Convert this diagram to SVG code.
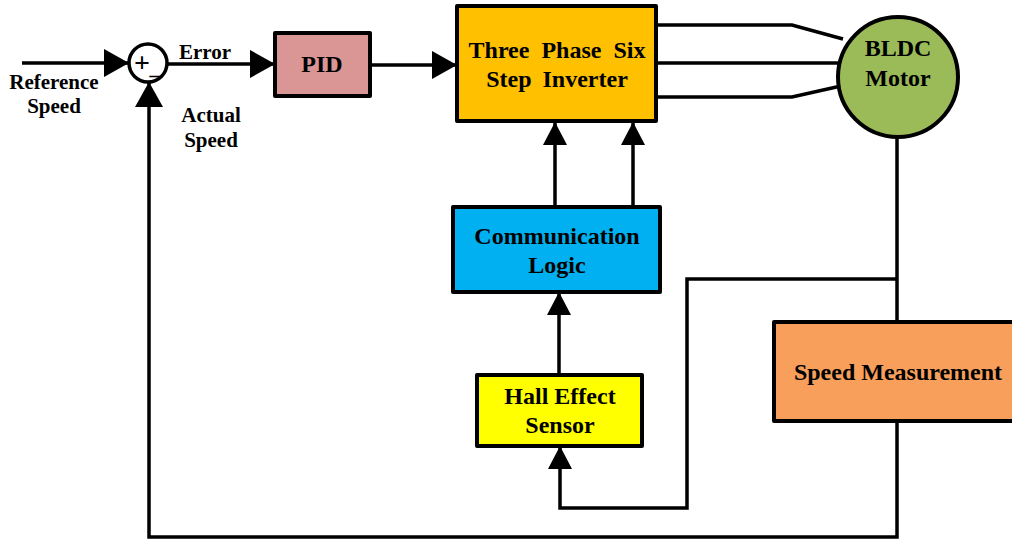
<svg xmlns="http://www.w3.org/2000/svg" width="1012" height="539" viewBox="0 0 1012 539">
<style>
.box{stroke:#000;stroke-width:4;stroke-linejoin:round}
.ln{fill:none;stroke:#000;stroke-width:3.5;stroke-linejoin:miter}
.t{font-family:"Liberation Serif","Times New Roman",serif;font-weight:bold;fill:#000;text-anchor:middle}
.s21{font-size:21px}
.s24{font-size:24px}
</style>
<defs>
<marker id="ah" markerUnits="userSpaceOnUse" markerWidth="26" markerHeight="28" refX="25" refY="14" orient="auto">
<path d="M0,0 L25,14 L0,28 z" fill="#000"/>
</marker>
<marker id="ahs" markerUnits="userSpaceOnUse" markerWidth="24" markerHeight="24" refX="23" refY="12" orient="auto">
<path d="M0,0 L23,12 L0,24 z" fill="#000"/>
</marker>
</defs>
<rect width="1012" height="539" fill="#fff"/>
<g id="connectors">
<line class="ln" x1="22" y1="63" x2="129" y2="63" marker-end="url(#ah)"/>
<line class="ln" x1="168" y1="64" x2="275" y2="64" marker-end="url(#ah)"/>
<line class="ln" x1="370" y1="65" x2="457" y2="65" marker-end="url(#ah)"/>
<polyline class="ln" points="656,25 792,25 843,39"/>
<line class="ln" x1="656" y1="63" x2="839" y2="63"/>
<polyline class="ln" points="656,97 792,97 841,86"/>
<line class="ln" x1="555" y1="207" x2="555" y2="122" marker-end="url(#ahs)"/>
<line class="ln" x1="633" y1="207" x2="633" y2="122" marker-end="url(#ahs)"/>
<line class="ln" x1="559" y1="375" x2="559" y2="292" marker-end="url(#ahs)"/>
<polyline class="ln" points="897,279 687,279 687,508 560,508 560,446" marker-end="url(#ahs)"/>
<line class="ln" x1="897" y1="137" x2="897" y2="322"/>
<polyline class="ln" points="897,421 897,537 149,537 149,82" marker-end="url(#ah)"/>
</g>
<g id="sum">
<circle cx="148" cy="63" r="19" fill="#fff" stroke="#000" stroke-width="3.5"/>
<text class="t" x="142" y="72" style="font-size:28px">+</text>
<text class="t" x="155" y="74" style="font-size:22px">_</text>
</g>
<g id="pid">
<rect class="box" x="275" y="33" width="95" height="63" fill="#D99694"/>
<text class="t s24" x="322" y="72">PID</text>
</g>
<g id="inverter">
<rect class="box" x="457" y="6" width="199" height="115" fill="#FFC000"/>
<text class="t s24" x="557" y="58" style="word-spacing:6px">Three Phase Six</text>
<text class="t s24" x="557" y="87" style="word-spacing:5px">Step Inverter</text>
</g>
<g id="motor">
<circle cx="898" cy="77" r="60" fill="#9BBB59" stroke="#000" stroke-width="4"/>
<text class="t s24" x="898" y="56">BLDC</text>
<text class="t s24" x="898" y="86">Motor</text>
</g>
<g id="comm">
<rect class="box" x="453" y="207" width="207" height="85" fill="#00B0F0"/>
<text class="t s24" x="557" y="244">Communication</text>
<text class="t s24" x="557" y="273">Logic</text>
</g>
<g id="hall">
<rect class="box" x="477" y="375" width="165" height="71" fill="#FFFF00"/>
<text class="t s24" x="560" y="404">Hall Effect</text>
<text class="t s24" x="560" y="433">Sensor</text>
</g>
<g id="speed">
<rect class="box" x="774" y="322" width="240" height="99" fill="#F79F5B"/>
<text class="t s24" x="898" y="380">Speed Measurement</text>
</g>
<g id="labels">
<text class="t s21" x="54" y="89">Reference</text>
<text class="t s21" x="54" y="113">Speed</text>
<text class="t s21" x="205" y="59">Error</text>
<text class="t s21" x="211" y="122">Actual</text>
<text class="t s21" x="211" y="147">Speed</text>
</g>
</svg>
